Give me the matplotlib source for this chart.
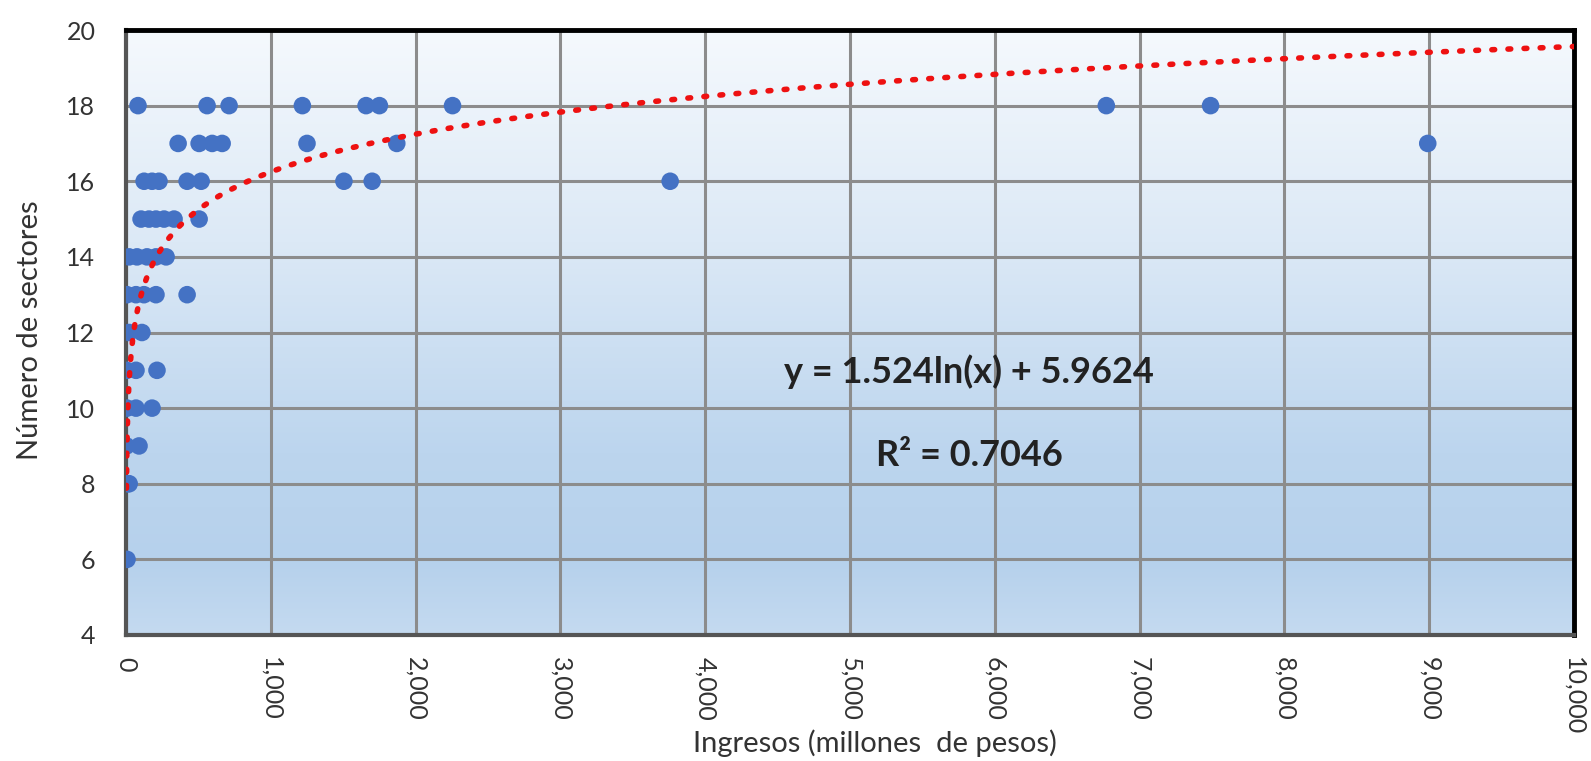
import numpy as np
import matplotlib
matplotlib.use("Agg")
import matplotlib.pyplot as plt
from matplotlib.colors import LinearSegmentedColormap
from matplotlib.ticker import FuncFormatter

# datos (ingresos en millones de pesos, numero de sectores)
ingresos_18 = [83, 560, 712, 1218, 1658, 1750, 2255, 6770, 7490]
ingresos_17 = [360, 505, 595, 664, 1250, 1870, 8990]
ingresos_16 = [125, 180, 228, 422, 519, 1505, 1700, 3758]
ingresos_15 = [104, 159, 207, 263, 332, 505]
ingresos_14 = [21, 76, 145, 207, 277]
ingresos_13 = [7, 69, 124, 207, 422]
ingresos_12 = [21, 110]
ingresos_11 = [5, 69, 214]
ingresos_10 = [7, 69, 180]
ingresos_9 = [3, 90]
ingresos_8 = [12, 22]
ingresos_6 = [7]

grupos = {18: ingresos_18, 17: ingresos_17, 16: ingresos_16, 15: ingresos_15,
          14: ingresos_14, 13: ingresos_13, 12: ingresos_12, 11: ingresos_11,
          10: ingresos_10, 9: ingresos_9, 8: ingresos_8, 6: ingresos_6}

# linea de tendencia logaritmica tal como aparece dibujada
trend_a = 1.44
trend_b = 6.30
ecuacion = "y = 1.524ln(x) + 5.9624"
r2 = "R² = 0.7046"

x_ticks = list(range(0, 10001, 1000))
y_ticks = list(range(4, 21, 2))

x = []
y = []
for sect, vals in grupos.items():
    x += vals
    y += [sect] * len(vals)
x = np.array(x, dtype=float)
y = np.array(y, dtype=float)

plt.rcParams['font.family'] = ['Lato', 'DejaVu Sans']

fig = plt.figure(figsize=(15.91, 7.61), dpi=100)
ax = fig.add_axes([126/1591, 1 - 635/761, (1574-126)/1591, (635-30)/761])

# fondo degradado
cmap = LinearSegmentedColormap.from_list(
    "fondo", [(0, "#f5f9fd"), (0.35, "#dce9f6"), (0.7, "#bcd5ee"), (0.88, "#b6d1ec"), (1, "#c4daf0")])
grad = np.linspace(0, 1, 256).reshape(-1, 1)
ax.imshow(grad, cmap=cmap, aspect="auto", extent=[0, 10000, 4, 20], origin="upper", zorder=0)

ax.set_axisbelow(True)
ax.grid(True, color="#8c8c8c", linewidth=2.2)

ax.scatter(x, y, s=160, color="#4472c4", zorder=3, edgecolors="none")

xt = np.geomspace(x.min(), 10000, 2000)
ax.plot(xt, trend_a * np.log(xt) + trend_b, color="#ee1111", linestyle=(0, (0.5, 2.4)),
        linewidth=4, dash_capstyle="round", zorder=4)

ax.set_xlim(0, 10000)
ax.set_ylim(4, 20)
ax.set_xticks(x_ticks)
ax.set_yticks(y_ticks)
ax.xaxis.set_major_formatter(FuncFormatter(lambda v, p: f"{int(v):,}"))
ax.tick_params(axis="both", length=0, labelsize=18, labelcolor="#333333")
ax.tick_params(axis="y", pad=22)
ax.tick_params(axis="x", pad=16)
for lab in ax.get_xticklabels():
    lab.set_rotation(-90)
    lab.set_va("top")
    lab.set_ha("center")

for s in ["top", "right"]:
    ax.spines[s].set_color("black")
    ax.spines[s].set_linewidth(3.5)
for s in ["left", "bottom"]:
    ax.spines[s].set_color("#555555")
    ax.spines[s].set_linewidth(3)

fig.text(969/1591, 1 - 372/761, ecuacion, fontsize=26, fontweight="bold",
         color="#222222", ha="center", va="center")
fig.text(969/1591, 1 - 456/761, r2, fontsize=26, fontweight="bold",
         color="#222222", ha="center", va="center")

fig.text(30/1591, 1 - 330/761, "Número de sectores", fontsize=21, color="#333333",
         rotation=90, ha="center", va="center")
fig.text(875/1591, 1 - 743/761, "Ingresos (millones  de pesos)", fontsize=21, color="#333333",
         ha="center", va="center")

fig.savefig("out.png", dpi=100)
